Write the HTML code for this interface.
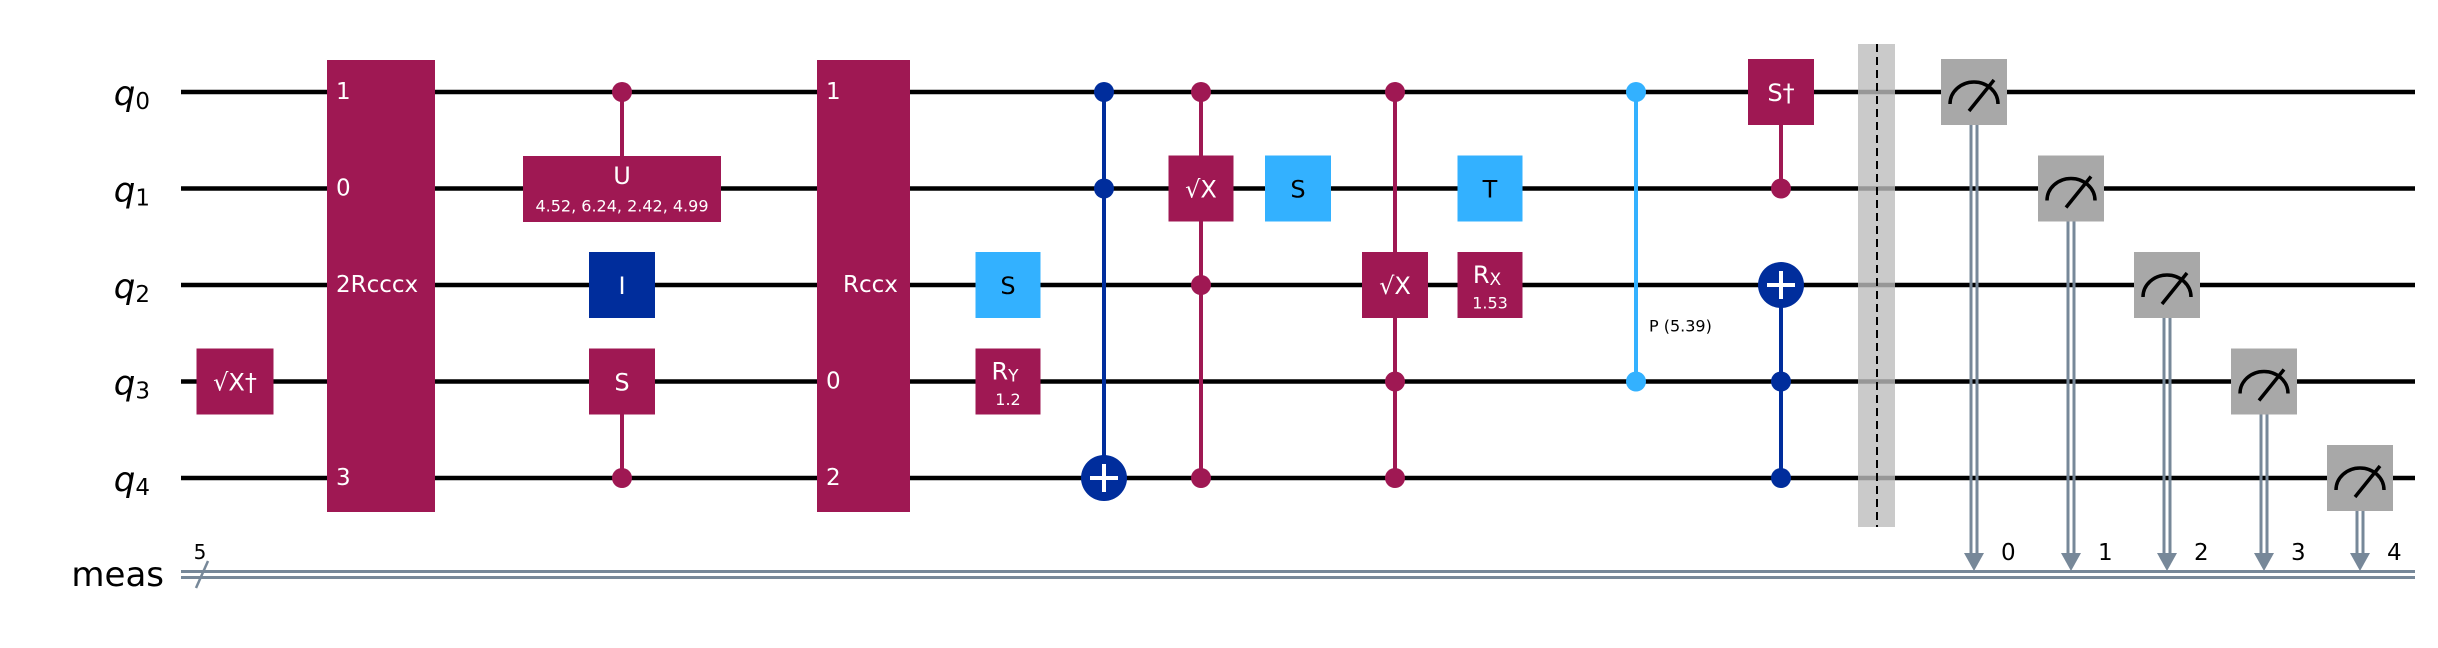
<!DOCTYPE html>
<html><head><meta charset="utf-8"><style>
html,body{margin:0;padding:0;background:#fff;}
svg{display:block;font-family:"DejaVu Sans","Liberation Sans",sans-serif;}
</style></head><body>
<svg id="c" width="2438" height="648" viewBox="0 0 2438 648" xmlns="http://www.w3.org/2000/svg"></svg>
<script>
// circuit data
const qubits = ["0","1","2","3","4"];
// single gates: [label, sub, param, x, qubit, width, color]
const boxGates = [
  ["√X†","","",235,3,77,"m"],
  ["I","","",622,2,66,"b"],
  ["S","","",622,3,66,"m"],
  ["S","","",1008,2,65,"c"],
  ["R","Y","1.2",1008,3,65,"m"],
  ["√X","","",1201,1,65,"m"],
  ["S","","",1298,1,66,"c"],
  ["√X","","",1395,2,66,"m"],
  ["T","","",1490,1,65,"c"],
  ["R","X","1.53",1490,2,65,"m"],
  ["S†","","",1781,0,66,"m"]
];
// control connections: [x, qubits of dots, span min, span max, color]
const ctrlLines = [
  [622,[0],0,1,"m"],
  [622,[4],3,4,"m"],
  [1104,[0,1],0,4,"b"],
  [1201,[0,2,4],0,4,"m"],
  [1395,[0,3,4],0,4,"m"],
  [1636,[0,3],0,3,"c"],
  [1781,[1],0,1,"m"],
  [1781,[3,4],2,4,"b"]
];
const targets = [[1104,4],[1781,2]];
const measX = [1974,2071,2167,2264,2360];
const colors = {m:"#9f1853",b:"#002d9c",c:"#33b1ff"};

const svg = document.getElementById('c');
const NS = "http://www.w3.org/2000/svg";
function wy(q){return 92+q*96.5;}
function mk(tag,attrs,parent){const e=document.createElementNS(NS,tag);for(const k in attrs)e.setAttribute(k,attrs[k]);(parent||svg).appendChild(e);return e;}
function txt(s,x,y,size,fill,anchor,parent,style){const t=mk('text',{x:x,y:y,'font-size':size,fill:fill,'text-anchor':anchor||'middle','dominant-baseline':'central'},parent);if(style)t.setAttribute('font-style',style);t.textContent=s;return t;}

// wires
qubits.forEach((q,i)=>{
  const l=mk('line',{x1:181,x2:2415,y1:wy(i),y2:wy(i),stroke:'#000','stroke-width':4.5});
  
  
  const t=mk('text',{x:150,y:wy(i)+2,'font-size':34,'text-anchor':'end','dominant-baseline':'central','font-style':'italic'});
  
  
  t.textContent='q';
  const s=mk('tspan',{'font-size':23,dy:8,'font-style':'normal'},t);s.textContent=q;
});
// classical register
const cg=mk('g',{});


mk('line',{x1:181,x2:2415,y1:571.5,y2:571.5,stroke:'#778899','stroke-width':3},cg);
mk('line',{x1:181,x2:2415,y1:577.5,y2:577.5,stroke:'#778899','stroke-width':3},cg);
mk('line',{x1:196,x2:208,y1:588,y2:561,stroke:'#778899','stroke-width':2.5},cg);
txt('5',200,552,20,'#000','middle',cg);
const ml=txt('meas',164,575,34,'#000','end');



// multi-qubit boxes
function multiBox(x1,x2,labels,name,mainLabel,mx){
  const g=mk('g',{});
  
  
  mk('rect',{x:x1,y:60,width:x2-x1,height:452,fill:colors.m},g);
  labels.forEach(([q,s])=>txt(s,x1+9,wy(q),23,'#fff','start',g));
  txt(mainLabel,mx,wy(2),23,'#fff','start',g);
}
multiBox(327,435,[[0,"1"],[1,"0"],[4,"3"]],'rcccx-gate','2Rcccx',336);
multiBox(817,910,[[0,"1"],[3,"0"],[4,"2"]],'rccx-gate','Rccx',843);

// control lines & dots
ctrlLines.forEach(([x,dots,a,b,c])=>{
  const g=mk('g',{});
  
  
  mk('line',{x1:x,x2:x,y1:wy(a),y2:wy(b),stroke:colors[c],'stroke-width':4},g);
  dots.forEach(q=>mk('circle',{cx:x,cy:wy(q),r:10,fill:colors[c]},g));
});
// CX targets
targets.forEach(([x,q])=>{
  const g=mk('g',{});
  
  
  mk('circle',{cx:x,cy:wy(q),r:23,fill:colors.b},g);
  mk('line',{x1:x-14,x2:x+14,y1:wy(q),y2:wy(q),stroke:'#fff','stroke-width':4},g);
  mk('line',{x1:x,x2:x,y1:wy(q)-14,y2:wy(q)+14,stroke:'#fff','stroke-width':4},g);
});
// U gate
(function(){
  const g=mk('g',{});
  
  
  mk('rect',{x:523,y:156,width:198,height:66,fill:colors.m},g);
  txt('U',622,176,24,'#fff','middle',g);
  txt('4.52, 6.24, 2.42, 4.99',622,206,16,'#fff','middle',g);
})();
// box gates
boxGates.forEach(([lab,sub,par,x,q,w,c])=>{
  const g=mk('g',{});
  
  
  mk('rect',{x:x-w/2,y:wy(q)-33,width:w,height:66,fill:colors[c]},g);
  const fg=c==='c'?'#000':'#fff';
  if(par){
    const t=txt(lab,x-3,wy(q)-10,24,fg,'middle',g);
    const s=mk('tspan',{'font-size':17,dy:5},t);s.textContent=sub;
    txt(par,x,wy(q)+18,16,fg,'middle',g);
  }else{
    txt(lab,x,wy(q)+1,24,fg,'middle',g);
  }
});
// P label
const pl=txt('P (5.39)',1649,326,16,'#000','start');


// barrier
(function(){
  const g=mk('g',{});
  
  
  mk('rect',{x:1858,y:44,width:37,height:483,fill:'#bdbdbd','fill-opacity':0.8},g);
  mk('line',{x1:1877,x2:1877,y1:44,y2:527,stroke:'#000','stroke-width':2,'stroke-dasharray':'8,5'},g);
})();
// measurements
measX.forEach((x,q)=>{
  const g=mk('g',{});
  
  
  const y=wy(q);
  mk('line',{x1:x-3,x2:x-3,y1:y+33,y2:556,stroke:'#778899','stroke-width':3},g);
  mk('line',{x1:x+3,x2:x+3,y1:y+33,y2:556,stroke:'#778899','stroke-width':3},g);
  mk('polygon',{points:`${x-10},553 ${x+10},553 ${x},571`,fill:'#778899'},g);
  mk('rect',{x:x-33,y:y-33,width:66,height:66,fill:'#a8a8a8'},g);
  mk('path',{d:`M ${x-24} ${y+12} A 24 22 0 0 1 ${x+24} ${y+12}`,fill:'none',stroke:'#000','stroke-width':3.5},g);
  mk('line',{x1:x-5,x2:x+20,y1:y+19,y2:y-12,stroke:'#000','stroke-width':3.5},g);
  txt(String(q),x+27,553,23,'#000','start',g);
});
</script>
</body></html>
